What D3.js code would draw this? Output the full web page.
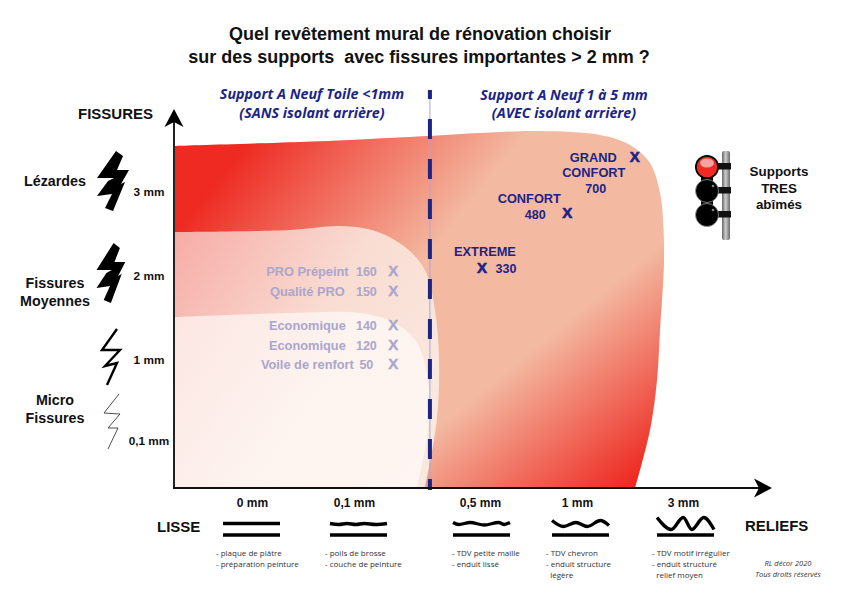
<!DOCTYPE html>
<html>
<head>
<meta charset="utf-8">
<script src="https://cdn.jsdelivr.net/npm/d3@7"></script>
<style>
  html, body { margin: 0; padding: 0; background: #fff; }
  svg { display: block; }
  text { font-family: "Liberation Sans", Arial, sans-serif; }
  .small { font-family: "Open Sans", sans-serif; font-size: 8px; fill: #333; }
</style>
</head>
<body>
<div id="chart"></div>
<script>
// tick values and labels of both axes
const reliefTicks = [0, 0.1, 0.5, 1, 3];
const reliefLabels = ['0 mm', '0,1 mm', '0,5 mm', '1 mm', '3 mm'];
const fissureTicks = [0.1, 1, 2, 3];
const fissureLabels = ['0,1 mm', '1 mm', '2 mm', '3 mm'];

// ends of the axes in axis units (the axes are not regular)
const reliefMin = -0.0765, reliefMax = 4.64;
const fissureMin = -0.422, fissureMax = 3.94;
const dividerRelief = 0.341;

// area outlines
const outerRelief = [-0.0765, 0.047, 0.278, 0.603, 0.809, 1.434, 2.0, 2.377, 2.566, 2.623, 2.642, 2.566, 2.509, 2.377, 2.094];
const outerFissure = [3.548, 3.595, 3.655, 3.714, 3.726, 3.679, 3.56, 3.345, 2.99, 2.667, 2.19, 1.357, 0.778, 0.222, -0.422];
const middleRelief = [-0.0765, 0.0373, 0.0863, 0.167, 0.262, 0.325, 0.357, 0.37, 0.363, 0.325];
const middleFissure = [2.524, 2.548, 2.595, 2.536, 2.345, 2.071, 1.595, 1, 0.333, -0.422];
const innerRelief = [-0.0765, 0.0373, 0.119, 0.23, 0.294, 0.329, 0.338, 0.3];
const innerFissure = [1.512, 1.56, 1.56, 1.44, 1.238, 0.889, 0.333, -0.422];

// products without isolant (left side)
const leftNames = ['PRO Prépeint', 'Qualité PRO', 'Economique', 'Economique', 'Voile de renfort'];
const leftValues = [160, 150, 140, 120, 50];
const leftRelief = [0.225, 0.225, 0.225, 0.225, 0.225];
const leftFissure = [2.06, 1.83, 1.42, 1.18, 0.96];

// products with isolant (right side)
const rightNames = ['EXTREME', 'CONFORT', 'GRAND CONFORT'];
const rightValues = [330, 480, 700];
const rightRelief = [0.51, 0.95, 2.09];
const rightFissure = [2.1, 2.76, 3.42];

// top line of the relief icons, [position along the icon, height]
const reliefWaves = [
  [[0, 0], [1, 0]],
  [[0, 0], [0.15, 1], [0.3, 0], [0.45, 1], [0.6, 0], [0.8, 1], [1, 0]],
  [[0, -1], [0.1, 1], [0.3, -1], [0.55, 1.5], [0.8, -1], [0.9, 1], [1, -1]],
  [[0, -3], [0.2, 3], [0.42, -1], [0.62, 3], [0.85, -3], [1, 2]],
  [[0, -6], [0.25, 6], [0.46, -6], [0.61, 6], [0.82, -6], [1, 6]]
];
const reliefNotes = [
  ['- plaque de plâtre', '- préparation peinture'],
  ['- poils de brosse', '- couche de peinture'],
  ['- TDV petite maille', '- enduit lissé'],
  ['- TDV chevron', '- enduit structure', '  légère'],
  ['- TDV motif irrégulier', '- enduit structuré', '  relief moyen']
];

const blue = '#1b2585';
const pale = '#aaa6cc';
const red = '#ee2a22';
const salmon = '#f3b9a1';

const svg = d3.select('#chart').append('svg')
  .attr('width', 842)
  .attr('height', 595);

// The axes are drawn piece by piece, each step has its own length
const x = d3.scaleLinear()
  .domain([reliefMin, 0, 0.1, 0.5, 1, 3, reliefMax])
  .range([174, 252, 354, 480, 577, 683, 770]);

const y = d3.scaleLinear()
  .domain([fissureMin, 0.1, 1, 2, 3, fissureMax])
  .range([488, 441, 360, 276, 192, 113]);

// gradients
const defs = svg.append('defs');
function addGradient(id, x1, y1, x2, y2, stops) {
  const g = defs.append('linearGradient')
    .attr('id', id)
    .attr('gradientUnits', 'userSpaceOnUse')
    .attr('x1', x1).attr('y1', y1).attr('x2', x2).attr('y2', y2);
  stops.forEach(s => {
    g.append('stop')
      .attr('offset', s[0])
      .attr('stop-color', s[1])
      .attr('stop-opacity', s[2] === undefined ? 1 : s[2]);
  });
}
addGradient('topFill', 190, 130, 640, 490, [[0.09, red], [0.46, red, 0]]);
addGradient('bottomFill', 520, 360, 625, 488, [[0, red, 0], [1, red]]);
addGradient('middleFill', 174, 232, 425, 400, [[0, '#f6aca6'], [0.55, '#f9dcd2'], [1, '#fae8df']]);
addGradient('innerFill', 174, 317, 420, 488, [[0, '#fce6e2'], [0.5, '#fdf3ef'], [1, '#fef6f2']]);
addGradient('pole', 722, 0, 730, 0, [[0, '#666'], [0.45, '#ccc'], [1, '#6a6a6a']]);

// the three areas
const outline = d3.line().x(d => x(d[0])).y(d => y(d[1])).curve(d3.curveCatmullRom);
function drawArea(reliefs, fissures, fills) {
  const pts = reliefs.map((r, i) => [r, fissures[i]]);
  fills.forEach(fill => {
    svg.append('path')
      .attr('d', outline(pts) + `L${x(reliefMin)},${y(fissureMin)}Z`)
      .attr('fill', fill);
  });
}
drawArea(outerRelief, outerFissure, [salmon, 'url(#topFill)', 'url(#bottomFill)']);
drawArea(middleRelief, middleFissure, ['url(#middleFill)']);
drawArea(innerRelief, innerFissure, ['url(#innerFill)']);

// dashed divider
svg.append('line')
  .attr('x1', x(dividerRelief)).attr('x2', x(dividerRelief))
  .attr('y1', 90).attr('y2', 490)
  .attr('stroke', '#a4a6d6').attr('stroke-width', 1);
svg.append('line')
  .attr('x1', x(dividerRelief)).attr('x2', x(dividerRelief))
  .attr('y1', 90).attr('y2', 490)
  .attr('stroke', blue).attr('stroke-width', 4)
  .attr('stroke-dasharray', '20 20').attr('stroke-dashoffset', 11);

// axis lines and arrows
svg.append('line')
  .attr('x1', x(reliefMin)).attr('x2', x(reliefMin))
  .attr('y1', y(fissureMin) + 1).attr('y2', y(fissureMax))
  .attr('stroke', '#222').attr('stroke-width', 2);
svg.append('line')
  .attr('x1', x(reliefMin) - 1).attr('x2', x(reliefMax) - 8)
  .attr('y1', y(fissureMin)).attr('y2', y(fissureMin))
  .attr('stroke', '#111').attr('stroke-width', 2);
svg.append('path')
  .attr('transform', `translate(${x(reliefMin)},${y(fissureMax)})`)
  .attr('d', 'M0,-4 L9.5,14 L0,9 L-9.5,14Z');
svg.append('path')
  .attr('transform', `translate(${x(reliefMax)},${y(fissureMin)})`)
  .attr('d', 'M2,0 L-16,-9.5 L-11,0 L-16,9.5Z');

// tick labels
const xAxis = d3.axisBottom(x)
  .tickValues(reliefTicks)
  .tickSize(0)
  .tickFormat((d, i) => reliefLabels[i]);
svg.append('g')
  .attr('transform', 'translate(0,497)')
  .call(xAxis)
  .call(g => g.select('.domain').remove())
  .selectAll('text')
  .attr('y', 0).attr('dy', 10)
  .style('font-family', '"Liberation Sans"')
  .style('font-size', '12px').style('font-weight', 'bold').attr('fill', '#111');

const yAxis = d3.axisLeft(y)
  .tickValues(fissureTicks)
  .tickSize(0)
  .tickFormat((d, i) => fissureLabels[i]);
svg.append('g')
  .attr('transform', 'translate(149,0)')
  .call(yAxis)
  .call(g => g.select('.domain').remove())
  .selectAll('text')
  .attr('x', 0).attr('text-anchor', 'middle')
  .style('font-family', '"Liberation Sans"')
  .style('font-size', '11.8px').style('font-weight', 'bold').attr('fill', '#111');

// helper for plain text
function label(txt, px, py, size, opts) {
  const o = opts || {};
  return svg.append('text')
    .attr('x', px).attr('y', py)
    .attr('font-size', size)
    .attr('font-weight', o.weight || 'bold')
    .attr('font-style', o.style || 'normal')
    .attr('text-anchor', o.anchor || 'middle')
    .attr('fill', o.fill || '#111')
    .style('white-space', 'pre')
    .text(txt);
}

// title
label('Quel revêtement mural de rénovation choisir', 420, 40, 18);
label('sur des supports  avec fissures importantes > 2 mm ?', 419, 63, 18);

// support headers
const headerFont = '"Open Sans", sans-serif';
label('Support A Neuf Toile <1mm', 312, 99, 14.3, { style: 'italic', fill: blue }).style('font-family', headerFont);
label('(SANS isolant arrière)', 312, 118, 14.3, { style: 'italic', fill: blue }).style('font-family', headerFont);
label('Support A Neuf 1 à 5 mm', 564, 100, 14.3, { style: 'italic', fill: blue }).style('font-family', headerFont);
label('(AVEC isolant arrière)', 564, 118, 14.3, { style: 'italic', fill: blue }).style('font-family', headerFont);

// axis names
label('FISSURES', 78, 119, 15, { anchor: 'start' });
label('LISSE', 157, 532, 15, { anchor: 'start' });
label('RELIEFS', 745, 531, 15, { anchor: 'start' });

// crack names
label('Lézardes', 55, 186, 14.3);
label('Fissures', 55, 288, 14.3);
label('Moyennes', 55, 306, 14.3);
label('Micro', 55, 405, 14.3);
label('Fissures', 55, 423, 14.3);

// crack symbols
const boltOutline = [[4, -30], [11, -25], [5, -11], [17, -11], [9, 3], [13, 1], [1, 30], [-7, 27], [0, 13], [-15, 15], [-4, 0], [2, -3], [-15, -3]];
const boltLine1 = [[7, -28], [-8, -7], [10, -7], [-5, 9], [7, 6], [-3, 28]];
const boltLine2 = [[9, -27], [-6, -8], [10, -7], [-2, 7], [8, 7], [-2, 28]];
const toPath = d3.line();
svg.append('path')
  .attr('transform', `translate(112,${y(3) - 11})`)
  .attr('d', toPath(boltOutline) + 'Z');
svg.append('path')
  .attr('transform', `translate(110,${y(2) - 3}) scale(0.9,1)`)
  .attr('d', toPath(boltOutline) + 'Z');
svg.append('path')
  .attr('transform', `translate(110,${y(1) - 3})`)
  .attr('d', toPath(boltLine1))
  .attr('fill', 'none').attr('stroke', '#000').attr('stroke-width', 2.4);
svg.append('path')
  .attr('transform', `translate(110,${y(0.1) - 20})`)
  .attr('d', toPath(boltLine2))
  .attr('fill', 'none').attr('stroke', '#222').attr('stroke-width', 0.8);

// X marker
function cross(px, py, color, weight) {
  label('X', px, py + 5.5, 15, { fill: color })
    .attr('stroke', color).attr('stroke-width', weight);
}

// products, left side
leftNames.forEach((name, i) => {
  const px = x(leftRelief[i]), py = y(leftFissure[i]);
  label(name, px - 86, py + 5.5, 12.8, { fill: pale });
  label(leftValues[i], px - 27, py + 5.5, 12.5, { fill: pale });
  cross(px, py, pale, 0.4);
});

// products, right side
const extremePos = [x(rightRelief[0]), y(rightFissure[0])];
cross(extremePos[0], extremePos[1], blue, 0.6);
label(rightNames[0], extremePos[0] + 3, extremePos[1] - 12, 12.8, { fill: blue });
label(rightValues[0], extremePos[0] + 24, extremePos[1] + 5, 12.5, { fill: blue });

const confortPos = [x(rightRelief[1]), y(rightFissure[1])];
cross(confortPos[0], confortPos[1], blue, 0.6);
label(rightNames[1], confortPos[0] - 38, confortPos[1] - 9, 12.8, { fill: blue });
label(rightValues[1], confortPos[0] - 32, confortPos[1] + 7, 12.5, { fill: blue });

const grandPos = [x(rightRelief[2]), y(rightFissure[2])];
cross(grandPos[0], grandPos[1], blue, 0.6);
rightNames[2].split(' ').forEach((w, i) => {
  label(w, grandPos[0] - (i ? 41 : 41.5), grandPos[1] + 5 + i * 15, 12.8, { fill: blue });
});
label(rightValues[2], grandPos[0] - 39, grandPos[1] + 36, 12.5, { fill: blue });

// relief icons under the axis
const iconWidth = 57;
const iconLeft = [223, 330, 453, 552, 657];
reliefTicks.forEach((t, i) => {
  const left = iconLeft[i];
  const wave = d3.line()
    .x(d => left + d[0] * iconWidth)
    .y(d => 523.5 + d[1])
    .curve(d3.curveMonotoneX);
  svg.append('path')
    .attr('d', wave(reliefWaves[i]))
    .attr('fill', 'none').attr('stroke', '#000').attr('stroke-width', 3.3);
  svg.append('line')
    .attr('x1', left).attr('x2', left + iconWidth)
    .attr('y1', 535).attr('y2', 535)
    .attr('stroke', '#000').attr('stroke-width', 3.3);
});

// notes under the icons
const noteLeft = [216, 325, 452, 546, 652];
reliefNotes.forEach((lines, i) => {
  lines.forEach((line, j) => {
    svg.append('text')
      .attr('class', 'small')
      .attr('x', noteLeft[i])
      .attr('y', 556 + j * 11)
      .style('white-space', 'pre')
      .text(line);
  });
});
svg.append('text').attr('class', 'small').attr('x', 788).attr('y', 566)
  .attr('text-anchor', 'middle').attr('font-style', 'italic').style('font-size', '7.5px').text('RL décor 2020');
svg.append('text').attr('class', 'small').attr('x', 788).attr('y', 577)
  .attr('text-anchor', 'middle').attr('font-style', 'italic').style('font-size', '7.5px').text('Tous droits réservés');

// traffic light
const lamp = svg.append('g');
lamp.append('rect').attr('x', 722).attr('y', 151).attr('width', 8).attr('height', 89).attr('rx', 2).attr('fill', 'url(#pole)');
[163, 187, 211].forEach(py => {
  lamp.append('rect').attr('x', 716).attr('y', py).attr('width', 15).attr('height', 6.5).attr('fill', '#111');
});
lamp.append('rect').attr('x', 701).attr('y', 172).attr('width', 12).attr('height', 40).attr('fill', '#000');
lamp.append('circle').attr('cx', 707).attr('cy', 167).attr('r', 12).attr('fill', '#000');
lamp.append('circle').attr('cx', 707).attr('cy', 167).attr('r', 10.3).attr('fill', red);
lamp.append('ellipse').attr('cx', 707).attr('cy', 163).attr('rx', 7).attr('ry', 4.5).attr('fill', '#f6a3a0');
[191, 215].forEach(cy => {
  lamp.append('circle').attr('cx', 707).attr('cy', cy).attr('r', 11.5).attr('fill', '#000').attr('stroke', '#999').attr('stroke-width', 0.8);
  lamp.append('circle').attr('cx', 713).attr('cy', cy - 5).attr('r', 1.3).attr('fill', '#888');
});
label('Supports', 779, 176, 13.4);
label('TRES', 779, 193, 13.4);
label('abîmés', 779, 209, 13.4);
</script>
</body>
</html>
